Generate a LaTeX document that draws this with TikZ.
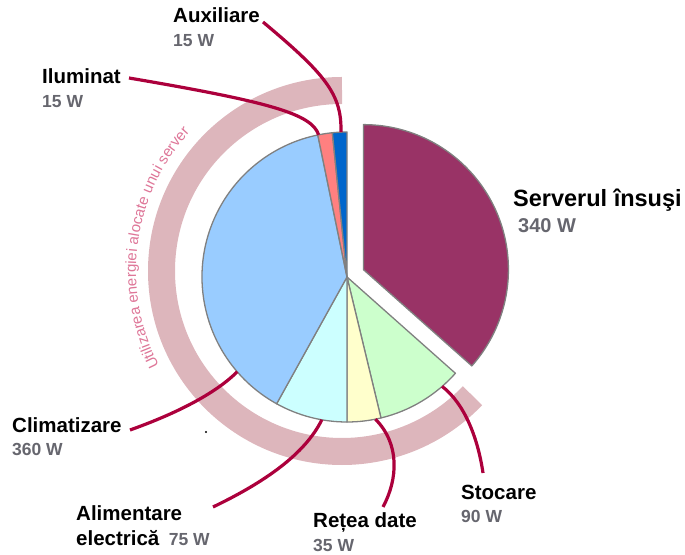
\documentclass[tikz,border=0pt]{standalone}
\usepackage{fontspec}
\setmainfont{Liberation Sans}
\usetikzlibrary{calc}
\usetikzlibrary{decorations.text}
\definecolor{plum}{RGB}{153,51,102}
\definecolor{stoc}{RGB}{204,255,204}
\definecolor{retea}{RGB}{255,255,204}
\definecolor{alim}{RGB}{204,255,255}
\definecolor{clim}{RGB}{153,204,255}
\definecolor{ilum}{RGB}{255,128,128}
\definecolor{aux}{RGB}{0,102,204}
\definecolor{pieedge}{RGB}{128,128,128}
\definecolor{leadred}{RGB}{172,0,60}
\definecolor{bandpink}{RGB}{221,182,188}
\definecolor{arctext}{RGB}{222,118,152}
\definecolor{valgray}{RGB}{102,102,110}

\begin{document}
\begin{tikzpicture}[x=1pt, y=1pt,
    slice/.style = {draw=pieedge, line width=1.3pt, line join=round},
    lead/.style = {draw=leadred, line width=3.2pt},
    band/.style = {draw=bandpink, line width=27pt},
    lbl/.style = {anchor=base west, inner sep=0pt, font=\fontsize{20.5}{22}\selectfont\bfseries},
    val/.style = {anchor=base west, inner sep=0pt, text=valgray, font=\fontsize{17.5}{19}\selectfont\bfseries}]
  \useasboundingbox (0,0) rectangle (685,554);
  \coordinate (c) at (347,277);
  \coordinate (cs) at ($(c)+(24.19:18)$);
  % arc band and its caption
  \draw[band] (342,283) ++(90:180.5) arc[start angle=90, end angle=316.3, radius=180.5];
  \path[decorate, decoration={text along path, text align=center,
      text={|\fontsize{15}{16}\selectfont\color{arctext}|Utilizarea energiei alocate unui server}}]
    (342,283) ++(210:206) arc[start angle=210, end angle=135, radius=206];
  % pie
  \foreach \a/\b/\col in {-41.613/-76.452/stoc, -76.452/-90/retea, -90/-119.032/alim,
      -119.032/-258.387/clim, -258.387/-264.194/ilum, -264.194/-270/aux}
    \filldraw[slice, fill=\col] (c) -- ++(\a:145) arc[start angle=\a, end angle=\b, radius=145] -- cycle;
  \filldraw[slice, fill=plum] (cs) -- ++(90:145) arc[start angle=90, end angle=-41.613, radius=145] -- cycle;
  \fill (206,122) circle[radius=1.1];
  % labels
  \node[lbl] (auxl) at (173,531) {Auxiliare};
  \node[val] (auxw) at (173,507) {15 W};
  \node[lbl] (iluml) at (42,470) {Iluminat};
  \node[val] (ilumw) at (42,446) {15 W};
  \node[lbl] (climl) at (12,121) {Climatizare};
  \node[val] (climw) at (12,98) {360 W};
  \node[lbl] (aliml) at (76,34) {Alimentare};
  \node[lbl] (alimb) at (76,9) {electrică};
  \node[val] (alimw) at ([xshift=9pt]alimb.base east) {75 W};
  \node[lbl] (retl) at (313,27) {Rețea date};
  \node[val] (retw) at (313,3) {35 W};
  \node[lbl] (stocl) at (461,54) {Stocare};
  \node[val] (stocw) at (461,31) {90 W};
  \node[lbl, font=\fontsize{23.5}{25}\selectfont\bfseries] (servl) at (513,347) {Serverul însuşi};
  \node[val, font=\fontsize{20}{22}\selectfont\bfseries] (servw) at (518,321) {340 W};
  % leader lines
  \coordinate (auxa) at (263,532);
  \coordinate (auxb) at ($(c)+(92.4:145)$);
  \coordinate (iluma) at (129,476);
  \coordinate (ilumb) at ($(c)+(101.3:145)$);
  \coordinate (clima) at (130,124);
  \coordinate (climb) at ($(c)+(220.8:145)$);
  \coordinate (alima) at (213,47);
  \coordinate (alimb2) at ($(c)+(260:145)$);
  \coordinate (reta) at (383,47);
  \coordinate (retb) at ($(c)+(-78.7:145)$);
  \coordinate (stoca) at (483,81);
  \coordinate (stocb) at ($(c)+(-49:145)$);
  \draw[lead] (auxa) .. controls (325,480) and (342,460) .. (auxb);
  \draw[lead] (iluma) .. controls (270,452) and (312,440) .. (ilumb);
  \draw[lead] (clima) .. controls (175,140) and (215,160) .. (climb);
  \draw[lead] (alima) .. controls (265,72) and (305,100) .. (alimb2);
  \draw[lead] (retb) .. controls (400,110) and (398,75) .. (reta);
  \draw[lead] (stocb) .. controls (465,150) and (478,115) .. (stoca);
\end{tikzpicture}
\end{document}
